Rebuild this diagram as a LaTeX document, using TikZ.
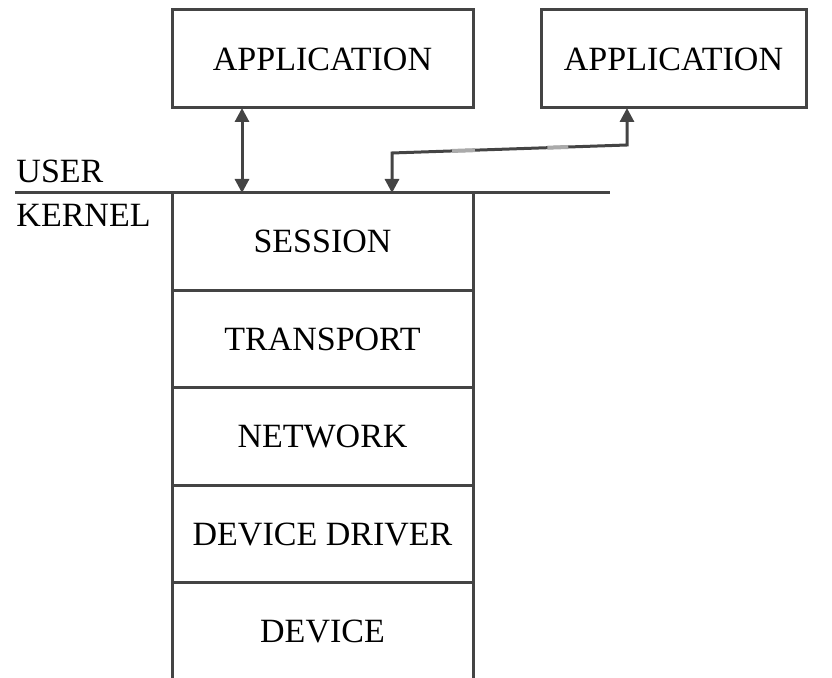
\documentclass[tikz,border=0pt]{standalone}
\usepackage{fontspec}
\setmainfont{Liberation Serif}
\usetikzlibrary{positioning, arrows.meta, calc}

\definecolor{ink}{HTML}{444444}
\definecolor{smudge}{HTML}{AAAAAA}

\begin{document}
\begin{tikzpicture}[x=0.5pt, y=-0.5pt, line width=1.5pt, draw=ink,
    font=\fontsize{17}{20}\selectfont]
    \tikzset{
        appbox/.style={draw=ink, minimum height=49pt, outer sep=0pt},
        layer/.style={draw=ink, minimum width=150.5pt, minimum height=48.75pt, outer sep=0pt},
        tag/.style={anchor=base west, inner sep=0pt},
        link/.style={ink, {Triangle[length=7pt, width=7pt]}-{Triangle[length=7pt, width=7pt]}}
    }
    \useasboundingbox (0,0) rectangle (832,678);

    % APPLICATIONS
    \node[appbox, minimum width=150.5pt] (app1) at (322.5,59) {APPLICATION};
    \node[appbox, minimum width=132.5pt] (app2) at (673.5,59) {APPLICATION};

    % KERNEL STACK
    \node[layer] (session) at (322.5,241.75) {SESSION};
    \node[layer, below=0pt of session] (transport) {TRANSPORT};
    \node[layer, below=0pt of transport] (network) {NETWORK};
    \node[layer, below=0pt of network] (driver) {DEVICE DRIVER};
    \node[layer, below=0pt of driver] (device) {DEVICE};

    % USER / KERNEL BOUNDARY
    \coordinate (lineL) at (15,193);
    \coordinate (lineR) at (610,193);
    \draw (lineL) -- (lineR);
    \node[tag] (user) at (15,183) {USER};
    \node[tag] (kernel) at (15,227) {KERNEL};

    % CONNECTIONS
    \coordinate (a1out) at ($(app1.south west)+(70,0)$);
    \coordinate (a2out) at ($(app2.south west)+(86,0)$);
    \draw[link] (session.north -| a1out) -- (a1out);
    \coordinate (kin) at (392,193);
    \coordinate (bendL) at (392,153);
    \coordinate (bendR) at (a2out |- 0,145);
    \draw[link] (kin) -- (bendL) -- (bendR) -- (a2out);
    \draw[smudge, line width=2pt] ($(bendL)!0.256!(bendR)$) -- ($(bendL)!0.353!(bendR)$);
    \draw[smudge, line width=2pt] ($(bendL)!0.661!(bendR)$) -- ($(bendL)!0.75!(bendR)$);
\end{tikzpicture}
\end{document}
